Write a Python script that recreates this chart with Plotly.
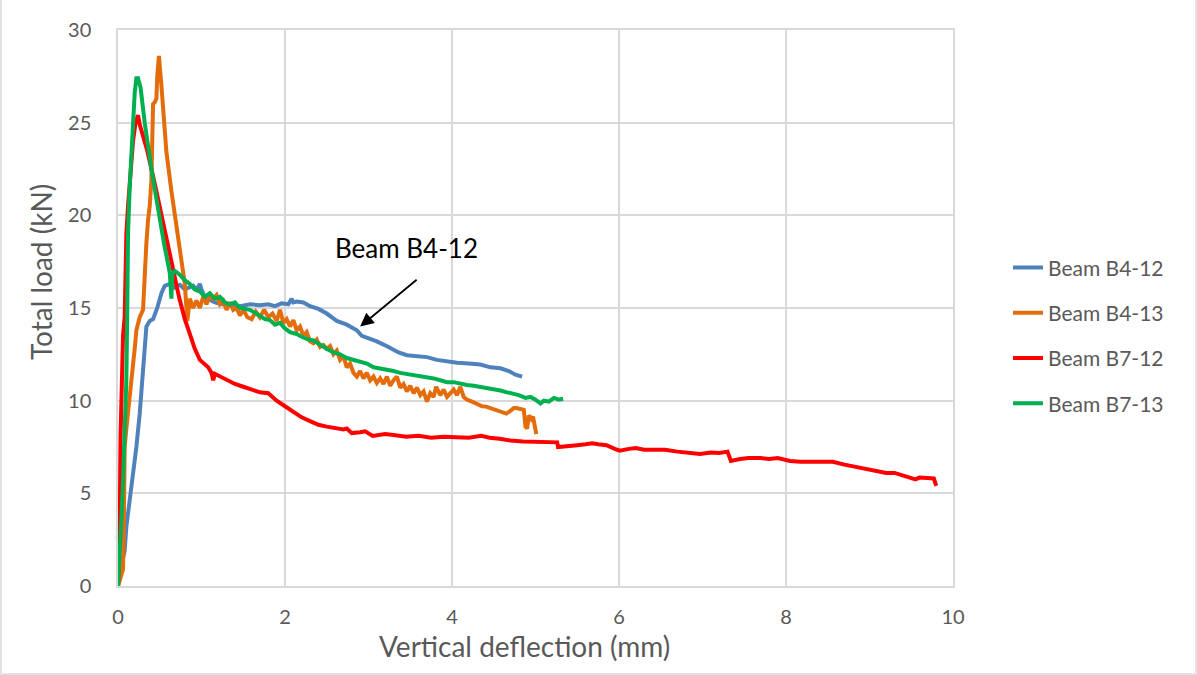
import plotly.graph_objects as go

# ---------------- data ----------------
b412_x = [0, 0.02, 0.06, 0.08, 0.10, 0.14, 0.18, 0.22, 0.26, 0.30, 0.34, 0.38, 0.42, 0.47, 0.52, 0.56, 0.62,
          0.68, 0.74, 0.80, 0.86, 0.90, 0.94, 0.98, 1.00, 1.04, 1.08, 1.16, 1.25, 1.36, 1.46, 1.58, 1.70,
          1.80, 1.88, 1.96, 2.04, 2.08, 2.10, 2.14, 2.22, 2.30, 2.40, 2.50, 2.62, 2.74, 2.86, 2.92, 2.98,
          3.10, 3.24, 3.36, 3.46, 3.58, 3.70, 3.82, 3.94, 4.06, 4.20, 4.34, 4.46, 4.58, 4.68, 4.76, 4.84]
b412_y = [0, 0.4, 1.5, 1.9, 3.2, 4.6, 5.8, 7.5, 9.3, 11.5, 14.0, 14.3, 14.4, 15.0, 15.8, 16.2, 16.3,
          16.1, 16.25, 16.0, 16.1, 16.2, 16.0, 16.3, 16.0, 15.6, 15.5, 15.3, 15.2, 15.15, 15.1, 15.2, 15.15,
          15.2, 15.1, 15.25, 15.2, 15.5, 15.3, 15.35, 15.3, 15.1, 14.95, 14.7, 14.3, 14.1, 13.8, 13.5, 13.4,
          13.2, 12.9, 12.6, 12.45, 12.4, 12.35, 12.2, 12.1, 12.05, 12.0, 11.95, 11.8, 11.75, 11.6, 11.4, 11.3]

b413_x = [0, 0.03, 0.06, 0.07, 0.08, 0.10, 0.12, 0.14, 0.16, 0.18, 0.20, 0.22, 0.26, 0.30, 0.31, 0.32,
          0.34, 0.36, 0.38, 0.40, 0.41, 0.42, 0.44, 0.46, 0.47, 0.49, 0.52, 0.58, 0.64, 0.70, 0.76, 0.80,
          0.83, 0.86, 0.90, 0.94, 0.98, 1.02, 1.06, 1.10, 1.14, 1.18, 1.22, 1.26, 1.30, 1.34, 1.38, 1.42,
          1.46, 1.50, 1.55, 1.60, 1.65, 1.70, 1.75, 1.80, 1.85, 1.90, 1.94, 1.98, 2.02, 2.06, 2.10, 2.14,
          2.18, 2.22, 2.26, 2.30, 2.34, 2.38, 2.42, 2.46, 2.50, 2.54, 2.58, 2.62, 2.66, 2.70, 2.74, 2.78,
          2.82, 2.86, 2.90, 2.94, 2.98, 3.02, 3.06, 3.10, 3.14, 3.18, 3.22, 3.26, 3.30, 3.34, 3.38, 3.42,
          3.46, 3.50, 3.54, 3.58, 3.62, 3.66, 3.70, 3.74, 3.78, 3.81, 3.86, 3.90, 3.94, 3.98, 4.02, 4.06,
          4.10, 4.14, 4.18, 4.24, 4.30, 4.36, 4.41, 4.46, 4.52, 4.58, 4.65, 4.70, 4.74, 4.77, 4.82, 4.86,
          4.88, 4.90, 4.92, 4.95, 4.97, 4.99, 5.01]
b413_y = [0, 0.5, 0.9, 3.5, 7.5, 8.5, 9.3, 10.5, 11.0, 12.0, 12.8, 13.8, 14.5, 14.9, 16.0, 17.4,
          18.5, 19.75, 20.5, 21.9, 24.0, 26.0, 26.1, 26.3, 27.5, 28.6, 27.0, 23.4, 21.3, 19.4, 17.5, 16.3,
          14.3, 15.5, 15.0, 15.4, 15.0, 15.6, 15.2, 15.7, 15.5, 15.7, 15.2, 15.4, 14.9, 15.3, 14.9, 15.0,
          14.6, 14.9, 14.5, 14.4, 14.8, 14.5, 14.9, 14.5, 14.7, 14.3, 14.9, 14.2, 14.4, 14.0, 14.35, 13.8,
          14.0, 13.5, 13.7, 13.2, 13.1, 13.3, 12.9, 13.0, 12.8, 12.95, 12.5, 12.7, 12.2, 12.4, 11.8, 12.0,
          11.5, 11.3, 11.6, 11.2, 11.5, 11.1, 11.3, 10.95, 11.2, 10.9, 11.3, 10.8, 11.1, 11.3, 10.7, 10.9,
          10.5, 10.8, 10.4, 10.7, 10.3, 10.5, 9.95, 10.4, 10.2, 10.75, 10.3, 10.6, 10.2, 10.4, 10.6, 10.3,
          10.75, 10.2, 10.05, 9.95, 9.85, 9.7, 9.68, 9.6, 9.5, 9.4, 9.3, 9.45, 9.6, 9.6, 9.55, 9.5,
          8.6, 8.5, 9.2, 9.0, 9.14, 8.7, 8.2]

b712_x = [0, 0.02, 0.03, 0.04, 0.06, 0.08, 0.09, 0.10, 0.12, 0.15, 0.18, 0.21, 0.24, 0.26, 0.35, 0.45,
          0.55, 0.65, 0.73, 0.80, 0.86, 0.92, 0.98, 1.04, 1.08, 1.12, 1.14, 1.16, 1.22, 1.30, 1.40, 1.50,
          1.60, 1.70, 1.80, 1.90, 2.00, 2.10, 2.20, 2.30, 2.40, 2.50, 2.60, 2.70, 2.74, 2.80, 2.90, 2.96,
          3.05, 3.20, 3.30, 3.45, 3.60, 3.75, 3.90, 4.05, 4.20, 4.35, 4.45, 4.57, 4.70, 4.85, 5.00, 5.15,
          5.26, 5.27, 5.35, 5.50, 5.60, 5.68, 5.75, 5.85, 5.95, 6.01, 6.12, 6.20, 6.30, 6.45, 6.55, 6.70,
          6.85, 6.97, 7.10, 7.20, 7.30, 7.34, 7.45, 7.55, 7.70, 7.80, 7.90, 8.05, 8.17, 8.30, 8.45, 8.56,
          8.70, 8.85, 8.97, 9.10, 9.20, 9.30, 9.45, 9.55, 9.60, 9.72, 9.77, 9.80]
b712_y = [0, 3.0, 8.0, 11.0, 13.5, 14.5, 18.5, 19.0, 20.5, 22.5, 24.0, 25.0, 25.4, 24.9, 23.5, 21.5,
          19.5, 17.3, 15.6, 14.4, 13.6, 12.8, 12.2, 12.0, 11.8, 11.5, 11.1, 11.45, 11.3, 11.1, 10.9, 10.75,
          10.6, 10.45, 10.4, 10.0, 9.7, 9.4, 9.1, 8.9, 8.7, 8.6, 8.5, 8.45, 8.5, 8.25, 8.3, 8.35,
          8.1, 8.2, 8.15, 8.05, 8.1, 8.0, 8.05, 8.0, 8.0, 8.1, 8.0, 7.95, 7.85, 7.8, 7.8, 7.75,
          7.75, 7.5, 7.55, 7.6, 7.65, 7.7, 7.65, 7.6, 7.4, 7.3, 7.4, 7.45, 7.35, 7.35, 7.35, 7.25,
          7.15, 7.12, 7.2, 7.18, 7.25, 6.75, 6.85, 6.9, 6.9, 6.85, 6.9, 6.75, 6.7, 6.7, 6.65, 6.7,
          6.55, 6.4, 6.3, 6.2, 6.1, 6.1, 5.9, 5.75, 5.85, 5.85, 5.8, 5.4]

b713_x = [0, 0.02, 0.04, 0.06, 0.08, 0.10, 0.11, 0.12, 0.14, 0.16, 0.18, 0.20, 0.22, 0.24, 0.27, 0.32,
          0.40, 0.48, 0.55, 0.62, 0.64, 0.65, 0.68, 0.74, 0.80, 0.86, 0.92, 0.98, 1.04, 1.10, 1.16, 1.22,
          1.28, 1.34, 1.40, 1.46, 1.52, 1.58, 1.64, 1.70, 1.76, 1.82, 1.88, 1.94, 2.00, 2.06, 2.14, 2.20,
          2.28, 2.34, 2.42, 2.50, 2.58, 2.66, 2.74, 2.82, 2.90, 2.98, 3.06, 3.14, 3.22, 3.30, 3.38, 3.46,
          3.54, 3.62, 3.70, 3.78, 3.86, 3.94, 4.02, 4.10, 4.18, 4.26, 4.34, 4.42, 4.50, 4.58, 4.66, 4.73,
          4.80, 4.88, 4.94, 5.00, 5.06, 5.10, 5.16, 5.22, 5.28, 5.33]
b713_y = [0, 1.5, 3.5, 5.7, 8.5, 11.1, 14.5, 19.0, 21.5, 23.4, 25.5, 26.6, 27.4, 27.4, 26.9, 25.0,
          22.5, 20.2, 18.5, 16.9, 15.5, 16.8, 17.0, 16.8, 16.5, 16.3, 16.0, 15.9, 15.6, 15.8, 15.5, 15.6,
          15.3, 15.2, 15.3, 15.0, 14.95, 14.9, 14.75, 14.6, 14.4, 14.35, 14.1, 14.2, 13.9, 13.7, 13.6, 13.45,
          13.3, 13.25, 13.0, 12.8, 12.6, 12.5, 12.3, 12.2, 12.05, 12.0, 11.8, 11.75, 11.65, 11.6, 11.5, 11.45,
          11.35, 11.3, 11.25, 11.2, 11.1, 11.0, 11.0, 10.9, 10.85, 10.8, 10.75, 10.7, 10.6, 10.55, 10.45, 10.4,
          10.3, 10.15, 10.2, 10.05, 9.85, 10.0, 9.95, 10.15, 10.05, 10.1]

series_names = ["Beam B4-12", "Beam B4-13", "Beam B7-12", "Beam B7-13"]
series_colors = ["#4F81BD", "#E46C0A", "#FF0000", "#00B050"]
x_ticks = [0, 2, 4, 6, 8, 10]
y_ticks = [0, 5, 10, 15, 20, 25, 30]

x_title = "Vertical deflection (mm)"
y_title = "Total load (kN)"
annot_text = "Beam B4-12"
arrow_tip = (2.90, 14.0)

# ---------------- figure ----------------
FONT = "Lato, 'Open Sans', sans-serif"
GRAY = "#595959"
L, R, T, B = 118, 244, 30, 89
PW, PH = 1197 - L - R, 675 - T - B

fig = go.Figure()
for name, color, xs, ys in zip(series_names, series_colors,
                               [b412_x, b413_x, b712_x, b713_x],
                               [b412_y, b413_y, b712_y, b713_y]):
    fig.add_trace(go.Scatter(x=xs, y=ys, mode="lines", name=name, legendgroup=name,
                             line=dict(color=color, width=4)))

fig.add_annotation(x=arrow_tip[0], y=arrow_tip[1], xref="x", yref="y",
                   ax=58, ay=-48,
                   text="", showarrow=True, arrowhead=2, arrowsize=1.5, arrowwidth=1.8,
                   arrowcolor="black")
fig.add_annotation(x=3.45, y=18.25, xref="x", yref="y", text=annot_text, showarrow=False,
                   font=dict(family=FONT, size=26, color="black"))

# axis titles placed where the reference has them
fig.add_annotation(x=(524.5 - L) / PW, y=-(646 - (T + PH)) / PH, xref="paper", yref="paper",
                   text=x_title, showarrow=False, xanchor="center", yanchor="middle",
                   font=dict(family=FONT, size=28, color=GRAY))
fig.add_annotation(x=(41 - L) / PW, y=((T + PH) - 272) / PH, xref="paper", yref="paper",
                   text=y_title, showarrow=False, textangle=-90, xanchor="center", yanchor="middle",
                   font=dict(family=FONT, size=28, color=GRAY))

fig.update_layout(
    width=1197, height=675,
    margin=dict(l=L, r=R, t=T, b=B),
    paper_bgcolor="white", plot_bgcolor="white",
    font=dict(family=FONT, color=GRAY),
    showlegend=True,
    legend=dict(x=(1008 - L) / PW, y=0.45, xanchor="left", yanchor="middle",
                font=dict(family=FONT, size=21, color=GRAY),
                tracegroupgap=15, bgcolor="rgba(0,0,0,0)"),
    xaxis=dict(range=[0, 10], tickvals=x_ticks, showgrid=True, gridcolor="#D9D9D9", gridwidth=1.5,
               zeroline=False, showline=True, linecolor="#D9D9D9", linewidth=1.5, mirror=True,
               ticks="", tickfont=dict(size=20, color=GRAY), ticklabelstandoff=12),
    yaxis=dict(range=[0, 30], tickvals=y_ticks, showgrid=True, gridcolor="#D9D9D9", gridwidth=1.5,
               zeroline=False, showline=True, linecolor="#D9D9D9", linewidth=1.5, mirror=True,
               ticks="", tickfont=dict(size=20, color=GRAY), ticklabelstandoff=21),
)

fig.add_shape(type="rect", xref="paper", yref="paper", x0=-(L - 1) / PW, x1=(1196 - L) / PW,
              y0=-(B - 1) / PH, y1=(674 - T) / PH, line=dict(color="#D9D9D9", width=1.5), layer="below")

fig.write_html("out.html", config={"displayModeBar": False},
               post_script="document.body.style.margin='0px';")
